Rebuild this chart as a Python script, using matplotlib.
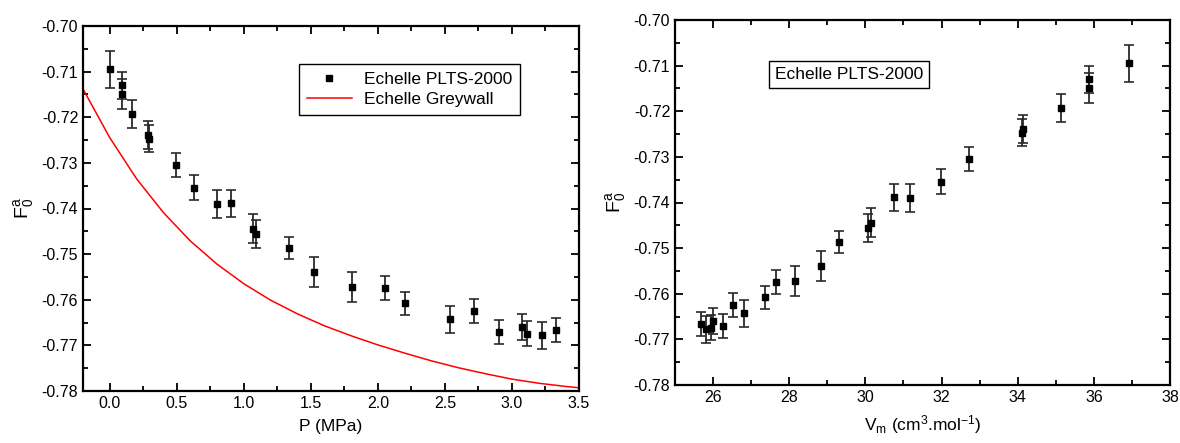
import matplotlib
matplotlib.use("Agg")
import matplotlib.pyplot as plt
from matplotlib.lines import Line2D
from matplotlib.ticker import MultipleLocator, FormatStrFormatter

plt.rcParams['font.family'] = ['Liberation Sans', 'DejaVu Sans']
plt.rcParams['mathtext.fontset'] = 'custom'
plt.rcParams['mathtext.rm'] = 'Liberation Sans'
plt.rcParams['mathtext.it'] = 'Liberation Sans'

# PLTS-2000 points: pressure, molar volume, F0a and its error
pressure = [0.0, 0.09, 0.09, 0.167, 0.285, 0.29, 0.494, 0.627, 0.80, 0.906,
            1.07, 1.087, 1.335, 1.524, 1.809, 2.055, 2.20, 2.535, 2.715, 2.904,
            3.074, 3.113, 3.223, 3.331]
volume = [36.92, 35.86, 35.86, 35.14, 34.15, 34.11, 32.71, 31.99, 31.17, 30.76,
          30.14, 30.08, 29.32, 28.83, 28.14, 27.65, 27.36, 26.81, 26.52, 26.25,
          26.00, 25.94, 25.81, 25.67]
f0a = [-0.7095, -0.7130, -0.7149, -0.7193, -0.7239, -0.7247, -0.7305, -0.7354,
       -0.7390, -0.7389, -0.7444, -0.7456, -0.7487, -0.7540, -0.7573, -0.7574,
       -0.7608, -0.7643, -0.7625, -0.7671, -0.7660, -0.7674, -0.7678, -0.7666]
f0a_err = [0.0040, 0.0030, 0.0033, 0.0031, 0.0031, 0.0030, 0.0026, 0.0028,
           0.0031, 0.0030, 0.0032, 0.0031, 0.0024, 0.0033, 0.0033, 0.0026,
           0.0025, 0.0029, 0.0027, 0.0027, 0.0029, 0.0028, 0.0030, 0.0027]

# Greywall scale curve
grey_p = [-0.2, 0.0, 0.2, 0.4, 0.6, 0.8, 1.0, 1.2, 1.4, 1.6, 1.8, 2.0, 2.2,
          2.4, 2.6, 2.8, 3.0, 3.2, 3.4, 3.5]
grey_f = [-0.7138, -0.7245, -0.7335, -0.7409, -0.7471, -0.7522, -0.7565,
          -0.7601, -0.7631, -0.7657, -0.7679, -0.7699, -0.7717, -0.7734,
          -0.7749, -0.7762, -0.7774, -0.7783, -0.7790, -0.7793]

fig = plt.figure(figsize=(11.8, 4.43), dpi=100)
ax1 = fig.add_axes([83 / 1180, 1 - 391 / 443, 496 / 1180, 365 / 443])
ax2 = fig.add_axes([675 / 1180, 1 - 385 / 443, 495 / 1180, 365 / 443])


def style(ax):
    for s in ax.spines.values():
        s.set_linewidth(1.6)
    ax.tick_params(which='both', direction='in', top=True, right=True,
                   labelsize=11.5, width=1.3)
    ax.tick_params(which='major', length=6)
    ax.tick_params(which='minor', length=3.5)
    ax.set_ylim(-0.78, -0.70)
    ax.yaxis.set_major_locator(MultipleLocator(0.01))
    ax.yaxis.set_minor_locator(MultipleLocator(0.005))
    ax.yaxis.set_major_formatter(FormatStrFormatter('%.2f'))
    ax.set_ylabel(r'$\mathregular{F_0^a}$', fontsize=14, labelpad=4)


ax1.errorbar(pressure, f0a, yerr=f0a_err, fmt='s', color='black', ms=5,
             ecolor='#2a2a2a', elinewidth=1.3, capsize=3.5, capthick=1.2)
ax1.plot(grey_p, grey_f, color='red', lw=1.1)
ax1.set_xlim(-0.2, 3.5)
ax1.xaxis.set_major_locator(MultipleLocator(0.5))
ax1.xaxis.set_minor_locator(MultipleLocator(0.25))
ax1.xaxis.set_major_formatter(FormatStrFormatter('%.1f'))
ax1.set_xlabel('P (MPa)', fontsize=12.5, labelpad=6)
style(ax1)
handles = [Line2D([], [], ls='none', marker='s', color='black', ms=5),
           Line2D([], [], color='red', lw=1.1)]
leg1 = ax1.legend(handles, ['Echelle PLTS-2000', 'Echelle Greywall'],
                  loc='upper left', bbox_to_anchor=(0.435, 0.895),
                  borderaxespad=0, fontsize=12.5, fancybox=False,
                  edgecolor='black', framealpha=1, handlelength=2.6,
                  borderpad=0.45, labelspacing=0.25, handletextpad=0.7)
leg1.get_frame().set_linewidth(1.0)

ax2.errorbar(volume, f0a, yerr=f0a_err, fmt='s', color='black', ms=5,
             ecolor='#2a2a2a', elinewidth=1.3, capsize=3.5, capthick=1.2)
ax2.set_xlim(25, 38)
ax2.xaxis.set_major_locator(MultipleLocator(2))
ax2.xaxis.set_minor_locator(MultipleLocator(1))
ax2.set_xlabel(r'$\mathregular{V_m}$ (cm$\mathregular{^3}$.mol$\mathregular{^{-1}}$)',
               fontsize=12.5, labelpad=6)
style(ax2)
ax2.text(0.352, 0.85, 'Echelle PLTS-2000', transform=ax2.transAxes,
         fontsize=12.5, ha='center', va='center',
         bbox=dict(boxstyle='square,pad=0.35', fc='white', ec='black', lw=1.0))

fig.savefig('out.png', dpi=100)
